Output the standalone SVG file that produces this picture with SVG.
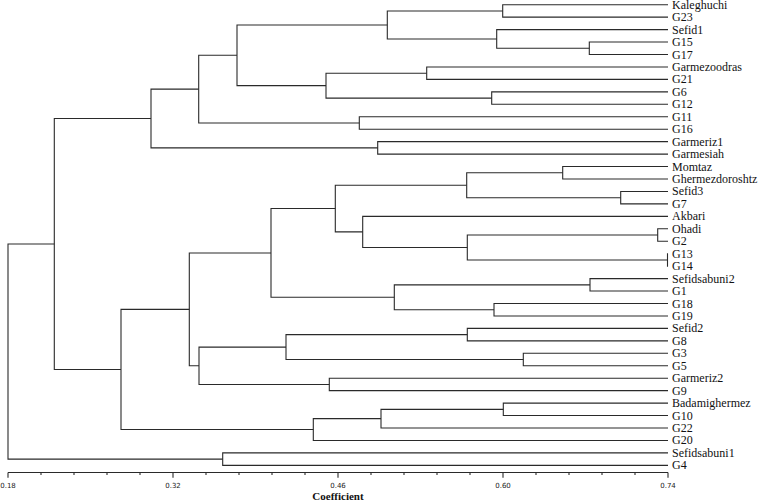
<svg xmlns="http://www.w3.org/2000/svg" width="761" height="502" viewBox="0 0 761 502">
<style>
.c{fill:none;stroke:#2a2a2a;stroke-width:1.1}
.lb{font-family:"Liberation Serif","Times New Roman",serif;font-size:12px;fill:#111}
.ax{font-family:"DejaVu Sans",Verdana,sans-serif;font-size:7px;fill:#222;text-anchor:middle}
.tt{font-family:"Liberation Serif","Times New Roman",serif;font-size:11px;font-weight:bold;fill:#111;text-anchor:middle}
</style>
<rect width="761" height="502" fill="#fff"/>
<g id="connectors" class="c">
<path d="M668 4.7H502.7V17.15H668"/>
<path d="M668 42.05H589.3V54.5H668"/>
<path d="M668 29.6H496.7V48.28H589.3"/>
<path d="M502.7 10.93H387.3V38.94H496.7"/>
<path d="M668 66.95H426.7V79.4H668"/>
<path d="M668 91.85H491.7V104.3H668"/>
<path d="M426.7 73.18H326V98.08H491.7"/>
<path d="M387.3 24.93H237V85.63H326"/>
<path d="M668 116.75H359.3V129.2H668"/>
<path d="M237 55.28H198.7V122.98H359.3"/>
<path d="M668 141.65H377.7V154.1H668"/>
<path d="M198.7 89.13H151V147.88H377.7"/>
<path d="M668 166.55H562.7V179H668"/>
<path d="M668 191.45H620.7V203.9H668"/>
<path d="M562.7 172.78H466.7V197.68H620.7"/>
<path d="M668 228.8H657.7V241.25H668"/>
<path d="M668 253.7H667.5V266.15H668"/>
<path d="M657.7 235.03H467.3V259.93H667.5"/>
<path d="M668 216.35H362.7V247.48H467.3"/>
<path d="M466.7 185.23H335.3V231.91H362.7"/>
<path d="M668 278.6H590V291.05H668"/>
<path d="M668 303.5H494V315.95H668"/>
<path d="M590 284.83H394.3V309.73H494"/>
<path d="M335.3 208.57H271V297.28H394.3"/>
<path d="M668 328.4H467.3V340.85H668"/>
<path d="M668 353.3H523.3V365.75H668"/>
<path d="M467.3 334.63H286V359.53H523.3"/>
<path d="M668 378.2H329.3V390.65H668"/>
<path d="M286 347.08H199V384.43H329.3"/>
<path d="M271 252.93H189.3V365.75H199"/>
<path d="M668 403.1H503.3V415.55H668"/>
<path d="M503.3 409.33H381V428H668"/>
<path d="M381 418.66H313.3V440.45H668"/>
<path d="M189.3 309.34H121V429.56H313.3"/>
<path d="M151 118.5H54.3V369.45H121"/>
<path d="M668 452.9H222.7V465.35H668"/>
<path d="M54.3 243.98H8V459.13H222.7"/>
</g>
<g id="axis">
<path class="c" d="M8 472.5H668"/>
<path class="c" d="M8 472.5V477.7M173 472.5V477.7M338 472.5V477.7M503 472.5V477.7M668 472.5V477.7M41 472.5V475M74 472.5V475M107 472.5V475M140 472.5V475M206 472.5V475M239 472.5V475M272 472.5V475M305 472.5V475M371 472.5V475M404 472.5V475M437 472.5V475M470 472.5V475M536 472.5V475M569 472.5V475M602 472.5V475M635 472.5V475"/>
<text class="ax" x="8" y="487.7">0.18</text>
<text class="ax" x="173" y="487.7">0.32</text>
<text class="ax" x="338" y="487.7">0.46</text>
<text class="ax" x="503" y="487.7">0.60</text>
<text class="ax" x="668" y="487.7">0.74</text>
<text class="tt" x="338" y="500">Coefficient</text>
</g>
<g id="leaves" class="lb">
<g id="n-Kaleghuchi"><text x="672" y="8.7">Kaleghuchi</text></g>
<g id="n-G23"><text x="672" y="21.15">G23</text></g>
<g id="n-Sefid1"><text x="672" y="33.6">Sefid1</text></g>
<g id="n-G15"><text x="672" y="46.05">G15</text></g>
<g id="n-G17"><text x="672" y="58.5">G17</text></g>
<g id="n-Garmezoodras"><text x="672" y="70.95">Garmezoodras</text></g>
<g id="n-G21"><text x="672" y="83.4">G21</text></g>
<g id="n-G6"><text x="672" y="95.85">G6</text></g>
<g id="n-G12"><text x="672" y="108.3">G12</text></g>
<g id="n-G11"><text x="672" y="120.75">G11</text></g>
<g id="n-G16"><text x="672" y="133.2">G16</text></g>
<g id="n-Garmeriz1"><text x="672" y="145.65">Garmeriz1</text></g>
<g id="n-Garmesiah"><text x="672" y="158.1">Garmesiah</text></g>
<g id="n-Momtaz"><text x="672" y="170.55">Momtaz</text></g>
<g id="n-Ghermezdoroshtz"><text x="672" y="183">Ghermezdoroshtz</text></g>
<g id="n-Sefid3"><text x="672" y="195.45">Sefid3</text></g>
<g id="n-G7"><text x="672" y="207.9">G7</text></g>
<g id="n-Akbari"><text x="672" y="220.35">Akbari</text></g>
<g id="n-Ohadi"><text x="672" y="232.8">Ohadi</text></g>
<g id="n-G2"><text x="672" y="245.25">G2</text></g>
<g id="n-G13"><text x="672" y="257.7">G13</text></g>
<g id="n-G14"><text x="672" y="270.15">G14</text></g>
<g id="n-Sefidsabuni2"><text x="672" y="282.6">Sefidsabuni2</text></g>
<g id="n-G1"><text x="672" y="295.05">G1</text></g>
<g id="n-G18"><text x="672" y="307.5">G18</text></g>
<g id="n-G19"><text x="672" y="319.95">G19</text></g>
<g id="n-Sefid2"><text x="672" y="332.4">Sefid2</text></g>
<g id="n-G8"><text x="672" y="344.85">G8</text></g>
<g id="n-G3"><text x="672" y="357.3">G3</text></g>
<g id="n-G5"><text x="672" y="369.75">G5</text></g>
<g id="n-Garmeriz2"><text x="672" y="382.2">Garmeriz2</text></g>
<g id="n-G9"><text x="672" y="394.65">G9</text></g>
<g id="n-Badamighermez"><text x="672" y="407.1">Badamighermez</text></g>
<g id="n-G10"><text x="672" y="419.55">G10</text></g>
<g id="n-G22"><text x="672" y="432">G22</text></g>
<g id="n-G20"><text x="672" y="444.45">G20</text></g>
<g id="n-Sefidsabuni1"><text x="672" y="456.9">Sefidsabuni1</text></g>
<g id="n-G4"><text x="672" y="469.35">G4</text></g>
</g>
</svg>
